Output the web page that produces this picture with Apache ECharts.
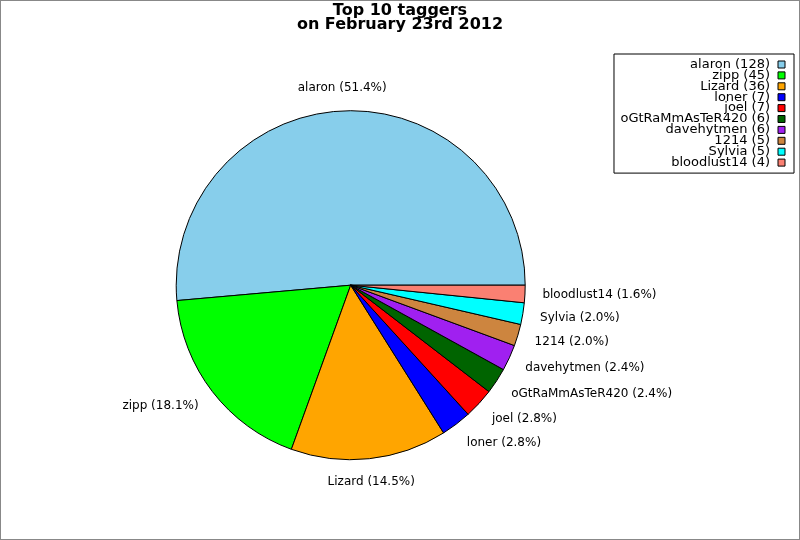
<!DOCTYPE html>
<html>
<head>
<meta charset="utf-8">
<script src="https://cdn.jsdelivr.net/npm/echarts@6/dist/echarts.min.js"></script>
<style>
  html, body { margin: 0; padding: 0; background: #fff; }
  #main { width: 798px; height: 538px; border: 1px solid #888; background: #fff; }
</style>
</head>
<body>
<div id="main"></div>
<script>
// ---- data ----
const taggers = ['alaron', 'zipp', 'Lizard', 'loner', 'joel', 'oGtRaMmAsTeR420', 'davehytmen', '1214', 'Sylvia', 'bloodlust14'];
const tagCounts = [128, 45, 36, 7, 7, 6, 6, 5, 5, 4];
const sliceColors = ['#87CEEB', '#00FF00', '#FFA500', '#0000FF', '#FF0000', '#006400', '#A020F0', '#CD853F', '#00FFFF', '#FA8072'];
const titleText = 'Top 10 taggers\non February 23rd 2012';

// ---- chart ----
const FONT = 'DejaVu Sans';
const PIE_CENTER = [349.7, 284.2];
const PIE_R = 174.5;

const chart = echarts.init(document.getElementById('main'), null, { renderer: 'canvas' });

const option = {
  animation: false,
  backgroundColor: '#fff',
  title: {
    text: titleText,
    left: 'center',
    top: 3.5,
    padding: 0,
    textStyle: { fontFamily: FONT, fontSize: 16, fontWeight: 'bold', color: '#000', lineHeight: 13.5 }
  },
  legend: {
    orient: 'vertical',
    right: 5,
    top: 53,
    align: 'right',
    icon: 'rect',
    itemWidth: 7,
    itemHeight: 7,
    itemGap: -2.1,
    padding: [4, 8.5, 4, 6.5],
    borderColor: '#000',
    borderWidth: 1,
    borderRadius: 0,
    backgroundColor: '#fff',
    selectedMode: false,
    itemStyle: { borderColor: '#000', borderWidth: 1 },
    textStyle: { fontFamily: FONT, fontSize: 13, lineHeight: 11, color: '#000', padding: [0, 3, 0, 0] },
    formatter: function (name) {
      const i = taggers.indexOf(name);
      return name + ' (' + tagCounts[i] + ')';
    },
    data: taggers
  },
  series: [{
    type: 'pie',
    center: PIE_CENTER,
    radius: PIE_R,
    startAngle: 0,
    clockwise: false,
    avoidLabelOverlap: false,
    silent: true,
    itemStyle: { borderColor: '#000', borderWidth: 1 },
    label: {
      show: true,
      position: 'outside',
      formatter: function (p) { return p.name + ' (' + p.percent.toFixed(1) + '%)'; },
      fontFamily: FONT,
      fontSize: 12,
      color: '#000',
      distanceToLabelLine: 0
    },
    labelLine: { show: false, length: PIE_R * 0.1, length2: 0 },
    labelLayout: function (p) {
      const r = p.labelRect;
      const ax = p.align === 'right' ? r.x + r.width : (p.align === 'center' ? r.x + r.width / 2 : r.x);
      const ay = r.y + r.height / 2;
      const dx = ax - PIE_CENTER[0];
      const dy = ay - PIE_CENTER[1];
      const dist = Math.sqrt(dx * dx + dy * dy) || 1;
      const shiftY = (dy / dist) * r.height / 2;
      if (Math.abs(dx) < 30) {
        return { x: ax, y: ay, align: 'center', verticalAlign: dy < 0 ? 'bottom' : 'top' };
      }
      return { x: ax, y: ay + shiftY, align: p.align, verticalAlign: 'middle' };
    },
    emphasis: { disabled: true },
    data: taggers.map((n, i) => ({ name: n, value: tagCounts[i], itemStyle: { color: sliceColors[i] } }))
  }]
};

chart.setOption(option);
</script>
</body>
</html>
